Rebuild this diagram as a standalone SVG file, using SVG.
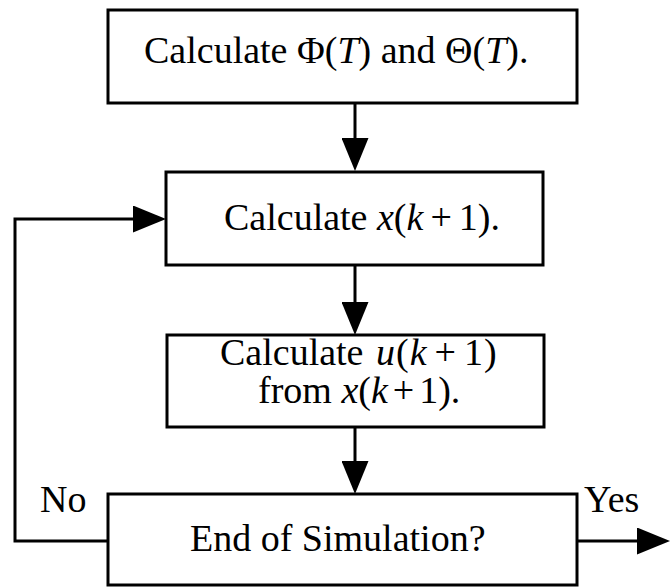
<svg xmlns="http://www.w3.org/2000/svg" width="671" height="588" viewBox="0 0 671 588">
<style>
.box{fill:#fff;stroke:#000;stroke-width:3}
.ln{fill:none;stroke:#000;stroke-width:3}
text{font-family:"Liberation Serif","Times New Roman",serif;font-size:38px;fill:#000}
.it{font-style:italic}
</style>
<defs>
<marker id="ah" viewBox="0 0 33 27" refX="23" refY="13.5" markerWidth="33" markerHeight="27" markerUnits="userSpaceOnUse" orient="auto">
<path d="M0,0 L33,13.5 L0,27 Z" fill="#000"/>
</marker>
</defs>
<g id="connectors">
<path class="ln" d="M355,103 V161" marker-end="url(#ah)"/>
<path class="ln" d="M355,265 V325" marker-end="url(#ah)"/>
<path class="ln" d="M355,427 V484" marker-end="url(#ah)"/>
<path class="ln" d="M108,541 H15 V219 H156" marker-end="url(#ah)"/>
<path class="ln" d="M577,541 H660" marker-end="url(#ah)"/>
<text x="40" y="512" font-size="36">No</text>
<text x="584" y="512" font-size="34">Yes</text>
</g>
<g id="n1">
<rect class="box" x="108" y="10" width="469" height="93"/>
<text x="144" y="63" font-size="38.5">Calculate Φ(<tspan class="it">T</tspan>) and Θ(<tspan class="it">T</tspan>).</text>
</g>
<g id="n2">
<rect class="box" x="166" y="172" width="377" height="93"/>
<text x="224" y="230">Calculate <tspan class="it">x</tspan>(<tspan class="it">k</tspan><tspan dx="7">+</tspan><tspan dx="7">1).</tspan></text>
</g>
<g id="n3">
<rect class="box" x="167" y="335" width="377" height="92"/>
<text x="220" y="365" font-size="35">Calculate <tspan class="it" dx="3">u</tspan><tspan dx="1">(</tspan><tspan class="it" dx="1">k</tspan><tspan dx="8">+</tspan><tspan dx="8">1</tspan><tspan dx="1">)</tspan></text>
<text x="258" y="403" font-size="35">from <tspan class="it">x</tspan>(<tspan class="it">k</tspan><tspan dx="5">+</tspan><tspan dx="5">1).</tspan></text>
</g>
<g id="n4">
<rect class="box" x="108" y="494" width="469" height="91"/>
<text x="190" y="551" font-size="35">End of Simulation?</text>
</g>
</svg>
